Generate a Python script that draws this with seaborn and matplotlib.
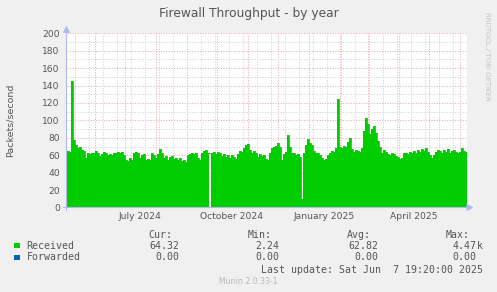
import numpy as np
import pandas as pd
import matplotlib
matplotlib.use("Agg")
import matplotlib.pyplot as plt
import matplotlib.dates as mdates
from matplotlib.patches import Rectangle
import seaborn as sns

# ---------------- data (2-day averages, packets/second) ----------------
received = [
    65, 64, 145, 78, 72, 68, 69, 66, 65, 57,
    62, 61, 63, 62, 65, 63, 59, 61, 64, 62,
    60, 61, 60, 63, 62, 64, 63, 64, 60, 54,
    53, 57, 55, 62, 64, 62, 57, 60, 61, 54,
    56, 55, 62, 60, 57, 61, 67, 63, 57, 59,
    55, 58, 59, 56, 57, 55, 57, 53, 55, 52,
    60, 61, 62, 61, 63, 57, 55, 63, 65, 66,
    63, np.nan, 62, 64, 61, 64, 62, 59, 61, 58,
    60, 57, 60, 58, 56, 61, 65, 64, 68, 72,
    73, 66, 63, 65, 62, 58, 61, 59, 60, 56,
    54, 63, 68, 69, 71, 74, 70, 55, 61, 64,
    83, 70, 63, 62, 60, 61, 58, 10, 62, 72,
    79, 74, 72, 65, 63, 62, 60, 57, 55, 56,
    60, 63, 65, 64, 68, 125, 70, 68, 71, 69,
    75, 80, 67, 64, 66, 65, 64, 68, 88, 103,
    96, 84, 90, 93, 85, 76, 70, 63, 66, 64,
    61, 60, 62, 61, 59, 58, 56, 57, 62, 63,
    61, 64, 63, 65, 62, 66, 64, 67, 65, 68,
    64, 60, 57, 60, 64, 66, 65, 63, 66, 64,
    67, 63, 65, 66, 64, 62, 64, 68, 65, 64,
]
forwarded = [0.0] * len(received)

series_names = ["Received", "Forwarded"]
series_colors = ["#00CC00", "#0066B3"]
stat_headers = ["Cur:", "Min:", "Avg:", "Max:"]
received_stats = ["64.32", "2.24", "62.82", "4.47k"]
forwarded_stats = ["0.00", "0.00", "0.00", "0.00"]
month_labels = ["July 2024", "October 2024", "January 2025", "April 2025"]
month_label_dates = ["2024-07-01", "2024-10-01", "2025-01-01", "2025-04-01"]
y_ticks = list(range(0, 201, 20))

start = pd.Timestamp("2024-05-03 19:20")
end = pd.Timestamp("2025-06-07 19:20")
dates = pd.date_range(start, periods=len(received), freq="2D")

df = pd.DataFrame({"date": dates, "Received": received, "Forwarded": forwarded})

# ---------------- figure ----------------
W, H = 497, 292
BG = "#F0F0F0"
TXT = "#555555"
sns.set_style("white")
plt.rcParams["font.family"] = ["DejaVu Sans"]

fig = plt.figure(figsize=(W / 100, H / 100), dpi=100, facecolor=BG)


def fx(x):
    return x / W


def fy(y):
    return 1 - y / H


ax_l, ax_r, ax_t, ax_b = 66.5, 466.5, 33.3, 207.5
ax = fig.add_axes([fx(ax_l), fy(ax_b), (ax_r - ax_l) / W, (ax_b - ax_t) / H])
ax.set_facecolor("white")

# step-shaped area built from the data
edges = list(dates) + [end]
xs = np.repeat(mdates.date2num(edges), 2)[1:-1]
ys = np.repeat(np.asarray(received, dtype=float), 2)
ax.fill_between(xs, ys, 0, color=series_colors[0], linewidth=0, zorder=2)
sns.lineplot(data=df, x="date", y="Received", drawstyle="steps-post",
             color=series_colors[0], linewidth=0.6, ax=ax, zorder=2, legend=False)
sns.lineplot(data=df, x="date", y="Forwarded", color=series_colors[1],
             linewidth=0.6, ax=ax, zorder=1, legend=False)

ax.set_xlim(mdates.date2num(start), mdates.date2num(end))
ax.set_ylim(0, 200)

# grid
ax.xaxis.set_major_locator(mdates.MonthLocator())
minor_days = pd.date_range("2024-05-12", end, freq="14D")
ax.set_xticks(mdates.date2num(minor_days), minor=True)
ax.set_yticks(y_ticks)
ax.set_yticks(range(10, 201, 20), minor=True)
ax.xaxis.set_major_formatter(plt.NullFormatter())
ax.set_yticklabels([str(v) for v in y_ticks])

ax.grid(which="major", color="#F2A6A6", linestyle=(0, (1, 1.6)), linewidth=0.72)
ax.grid(which="minor", color="#CFCFCF", linestyle=(0, (1, 1.6)), linewidth=0.72)
ax.set_axisbelow(True)

ax.tick_params(which="major", direction="out", length=2.5, width=0.72,
               color="#F08C8C", labelsize=6.6, labelcolor=TXT, pad=2.3)
ax.tick_params(which="minor", direction="out", length=2.5, width=0.72,
               color="#C8C8C8")
ax.tick_params(axis="x", which="major", labelbottom=False)
ax.set_xlabel("")
ax.set_ylabel("")

for s in ax.spines.values():
    s.set_visible(False)

# axis lines with arrows
AX_C = "#B0B8F0"
ax.annotate("", xy=(0, 1 + 7.5 / (ax_b - ax_t)), xytext=(0, -3 / (ax_b - ax_t)),
            xycoords="axes fraction", annotation_clip=False,
            arrowprops=dict(arrowstyle="-|>,head_length=0.55,head_width=0.3",
                            mutation_scale=7, color=AX_C, lw=0.8,
                            shrinkA=0, shrinkB=0))
ax.annotate("", xy=(1 + 7 / (ax_r - ax_l), 0), xytext=(-3 / (ax_r - ax_l), 0),
            xycoords="axes fraction", annotation_clip=False,
            arrowprops=dict(arrowstyle="-|>,head_length=0.55,head_width=0.3",
                            mutation_scale=7, color=AX_C, lw=0.8,
                            shrinkA=0, shrinkB=0))

# month labels centered mid-month
xt = ax.get_xaxis_transform()
for lab, d in zip(month_labels, month_label_dates):
    xd = mdates.date2num(pd.Timestamp(d) + pd.Timedelta(days=15))
    ax.text(xd, -(216.3 - ax_b) / (ax_b - ax_t), lab, transform=xt,
            ha="center", va="center", fontsize=6.6, color=TXT)

# titles and side texts
fig.text(fx(248.5), fy(14), "Firewall Throughput - by year", ha="center",
         va="center", fontsize=8.8, color=TXT)
fig.text(fx(10), fy(120), "Packets/second", rotation=90, ha="center",
         va="center", fontsize=6.8, color=TXT)
fig.text(fx(487), fy(56), "RRDTOOL / TOBI OETIKER", rotation=270,
         ha="center", va="center", fontsize=5.0, color="#C4C4C4")

# legend
MONO = ["DejaVu Sans Mono"]
LFS = 7.1
hdr_x = [172, 271.7, 370.7, 469.3]
val_x = [179, 279, 378, 476.7]
for h, x in zip(stat_headers, hdr_x):
    fig.text(fx(x), fy(234.7), h, ha="right", va="center", fontsize=LFS,
             family=MONO, color=TXT)
rows = [(245.7, received_stats), (257.3, forwarded_stats)]
for (yy, stats), name, col in zip(rows, series_names, series_colors):
    fig.patches.append(Rectangle((fx(14), fy(yy + 2.6)), 5.6 / W, 5.4 / H,
                                 transform=fig.transFigure, facecolor=col,
                                 edgecolor="none", zorder=3))
    fig.text(fx(26.7), fy(yy), name, ha="left", va="center", fontsize=LFS,
             family=MONO, color=TXT)
    for v, x in zip(stats, val_x):
        if v.endswith("k"):
            fig.text(fx(x), fy(yy), v[:-1], ha="right", va="center",
                     fontsize=LFS, family=MONO, color=TXT)
            fig.text(fx(x), fy(yy), "k", ha="left", va="center",
                     fontsize=LFS, family=MONO, color=TXT)
        else:
            fig.text(fx(x), fy(yy), v, ha="right", va="center", fontsize=LFS,
                     family=MONO, color=TXT)

fig.text(fx(482.7), fy(270), "Last update: Sat Jun  7 19:20:00 2025",
         ha="right", va="center", fontsize=LFS, family=MONO, color=TXT)
fig.text(fx(248), fy(281.3), "Munin 2.0.33-1", ha="center", va="center",
         fontsize=5.6, color="#B8B8B8")

fig.savefig("out.png", dpi=100, facecolor=BG)
